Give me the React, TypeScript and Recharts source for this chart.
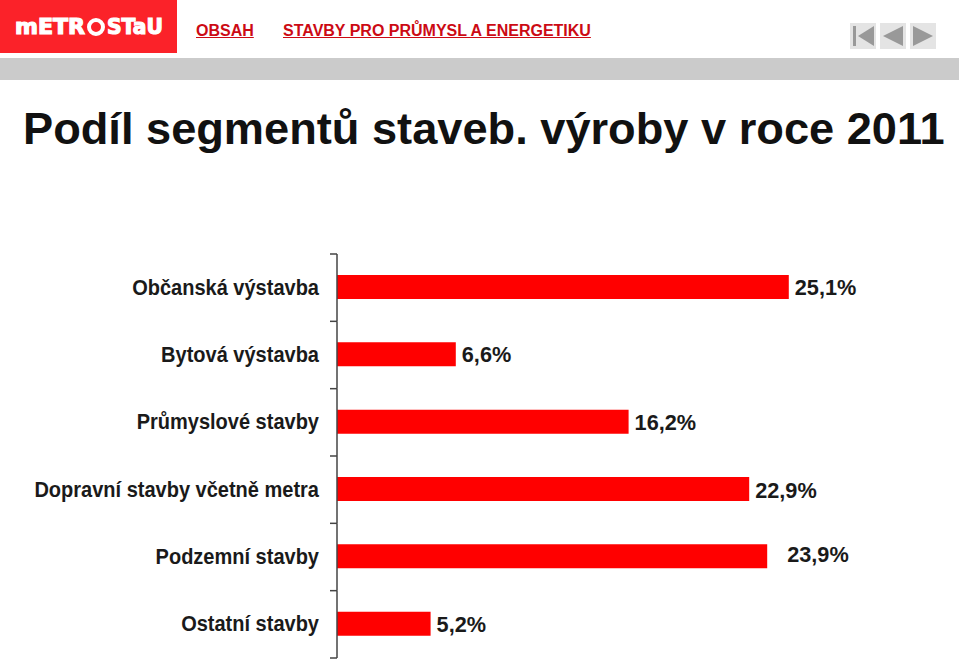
import { BarChart, Bar, XAxis, YAxis, LabelList } from "recharts";

const categories = [
  "Občanská výstavba",
  "Bytová výstavba",
  "Průmyslové stavby",
  "Dopravní stavby včetně metra",
  "Podzemní stavby",
  "Ostatní stavby",
];
const shares = [25.1, 6.6, 16.2, 22.9, 23.9, 5.2];

const data = categories.map((name, i) => ({ name, share: shares[i] }));

const FONT = '"Liberation Sans", Arial, sans-serif';
const BAR_RED = "#ff0000";
const AXIS = "#444444";
const BAND = 404 / 6;
// the source slide drags a couple of value labels off their default spot
const LABEL_NUDGE_Y: Record<number, number> = { 22.9: 1, 23.9: -2 };
const LABEL_NUDGE_X: Record<number, number> = { 23.9: 14 };

function CategoryTick({ x, y, payload, index }: any) {
  const axisX = x + 18;
  const top = y - BAND / 2 + 1;
  return (
    <g>
      <line x1={axisX} x2={axisX} y1={top} y2={top + BAND} stroke={AXIS} strokeWidth={1.5} />
      <line x1={axisX - 7} x2={axisX} y1={top} y2={top} stroke={AXIS} strokeWidth={1.5} />
      {index === categories.length - 1 && (
        <line x1={axisX - 7} x2={axisX} y1={top + BAND} y2={top + BAND} stroke={AXIS} strokeWidth={1.5} />
      )}
      {/* slide text is squeezed sideways, so scale rather than shrink the font */}
      <text
        transform={`translate(${x} ${y + 8}) scale(0.91 1)`}
        textAnchor="end"
        fontFamily={FONT}
        fontSize={22}
        fontWeight={700}
        fill="#1a1a1a"
      >
        {payload.value}
      </text>
    </g>
  );
}

function ShareLabel({ x, y, width, height, value }: any) {
  const dx = LABEL_NUDGE_X[value] ?? 0;
  const dy = LABEL_NUDGE_Y[value] ?? 0;
  return (
    <text x={x + width + 6 + dx} y={y + height / 2 + 8 + dy} fontFamily={FONT} fontSize={21.7} fontWeight={700} fill="#1a1a1a">
      {String(value).replace(".", ",")}%
    </text>
  );
}

function NavButton({ left, points, bar }: { left: number; points: string; bar?: boolean }) {
  return (
    <svg width={26} height={26} style={{ position: "absolute", left, top: 23 }}>
      <rect width={26} height={26} fill="#e4e4e4" />
      {bar && <rect x={3} y={3} width={3} height={20} fill="#999999" />}
      <polygon points={points} fill="#999999" />
    </svg>
  );
}

function Logo() {
  const logoFont = {
    fill: "#fff",
    stroke: "#fff",
    strokeWidth: 1.2,
    fontFamily: '"DejaVu Sans", sans-serif',
    fontWeight: 700,
    fontSize: 21,
  };
  return (
    <svg width={177} height={53} style={{ position: "absolute", left: 0, top: 0 }}>
      <rect width={177} height={53} fill="#fb2229" />
      <text x={15} y={34} {...logoFont} textLength={70} lengthAdjust="spacingAndGlyphs">
        mETR
      </text>
      <circle cx={96} cy={27} r={7} fill="none" stroke="#fff" strokeWidth={4} />
      <text x={107} y={34} {...logoFont} textLength={56} lengthAdjust="spacingAndGlyphs">
        STaU
      </text>
    </svg>
  );
}

function Header() {
  const link = { position: "absolute", top: 22, color: "#cc0a14", fontFamily: FONT, fontSize: 16, fontWeight: 700, textDecoration: "underline", whiteSpace: "nowrap" } as const;
  return (
    <>
      <Logo />
      <a style={{ ...link, left: 196 }}>OBSAH</a>
      <a style={{ ...link, left: 283 }}>STAVBY PRO PRŮMYSL A ENERGETIKU</a>
      <NavButton left={850} points="24,3 24,23 8,13" bar />
      <NavButton left={880} points="23,3 23,23 3,13" />
      <NavButton left={910} points="3,3 3,23 23,13" />
      <div style={{ position: "absolute", left: 0, top: 58, width: 959, height: 22, background: "#cbcbcb" }} />
      <div style={{ position: "absolute", left: 23, top: 103, fontFamily: FONT, fontSize: 45.2, fontWeight: 700, color: "#111", whiteSpace: "nowrap" }}>
        Podíl segmentů staveb. výroby v roce 2011
      </div>
    </>
  );
}

export default function App() {
  return (
    <div style={{ position: "absolute", left: 0, top: 0, width: 959, height: 660, background: "#fff", overflow: "hidden" }}>
      <Header />
      <BarChart
        width={959}
        height={660}
        data={data}
        layout="vertical"
        barSize={24}
        margin={{ top: 253, right: 82, bottom: 3, left: 0 }}
        style={{ position: "absolute", left: 0, top: 0 }}
      >
        <XAxis type="number" domain={[0, 30]} hide />
        <YAxis
          type="category"
          dataKey="name"
          width={337}
          tick={<CategoryTick />}
          tickLine={false}
          tickMargin={18}
          tickSize={0}
          interval={0}
          axisLine={false}
        />
        <Bar dataKey="share" fill={BAR_RED} isAnimationActive={false}>
          <LabelList dataKey="share" content={<ShareLabel />} />
        </Bar>
      </BarChart>
    </div>
  );
}
